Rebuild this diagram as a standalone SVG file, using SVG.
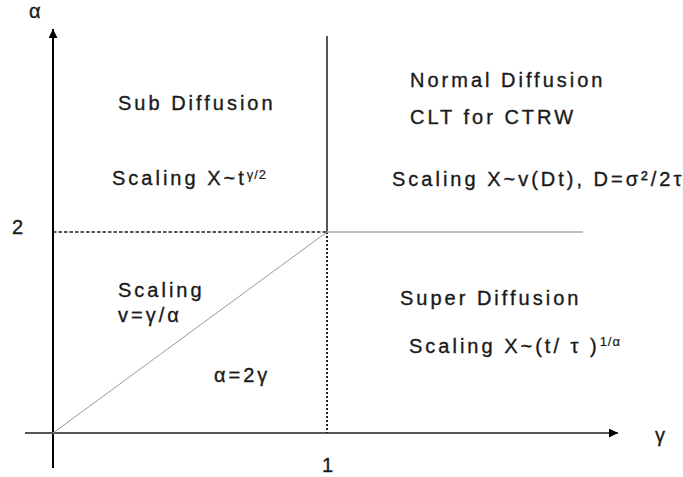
<svg xmlns="http://www.w3.org/2000/svg" width="683" height="477" viewBox="0 0 683 477">
<style>
text{font-family:"Liberation Sans",Arial,sans-serif;font-size:20px;fill:#1a1a1a;stroke:#1a1a1a;stroke-width:0.35;letter-spacing:3px}
.sup{font-size:13px;letter-spacing:1px;stroke-width:0.2}
</style>
<defs>
<marker id="ah" viewBox="0 0 10 10" refX="10" refY="5" markerWidth="10" markerHeight="9" markerUnits="userSpaceOnUse" orient="auto">
<path d="M0,0L10,5L0,10z" fill="#000"/>
</marker>
</defs>
<rect width="683" height="477" fill="#fff"/>
<g id="connectors">
<line x1="53" y1="468" x2="53" y2="29" stroke="#000" stroke-width="2" marker-end="url(#ah)"/>
<line x1="25" y1="433" x2="618" y2="433" stroke="#555" stroke-width="2" marker-end="url(#ah)"/>
<line x1="327" y1="36" x2="327" y2="232" stroke="#555" stroke-width="2"/>
<line x1="327" y1="232" x2="327" y2="433" stroke="#222" stroke-width="2" stroke-dasharray="2,2"/>
<line x1="53" y1="232" x2="327" y2="232" stroke="#222" stroke-width="1.5" stroke-dasharray="3.5,2"/>
<line x1="327" y1="232" x2="583" y2="232" stroke="#aaa" stroke-width="1.5"/>
<line x1="53" y1="433" x2="327" y2="232" stroke="#999" stroke-width="1"/>
</g>
<g id="labels">
<text x="29" y="18">α</text>
<text x="12" y="234">2</text>
<text x="322" y="472">1</text>
<text x="655" y="442">γ</text>
</g>
<g id="sub">
<text x="118" y="110">Sub Diffusion</text>
<text x="112" y="185">Scaling X~t<tspan class="sup" dy="-6">γ/2</tspan></text>
</g>
<g id="normal">
<text x="410" y="87">Normal Diffusion</text>
<text x="410" y="124">CLT for CTRW</text>
<text x="392" y="186">Scaling X~v(Dt), D=σ²/2τ</text>
</g>
<g id="diag">
<text x="118" y="297">Scaling</text>
<text x="118" y="322">v=γ/α</text>
<text x="214" y="382">α=2γ</text>
</g>
<g id="super">
<text x="400" y="305">Super Diffusion</text>
<text x="409" y="353">Scaling X~(t/ τ )<tspan class="sup" dy="-7">1/α</tspan></text>
</g>
</svg>
